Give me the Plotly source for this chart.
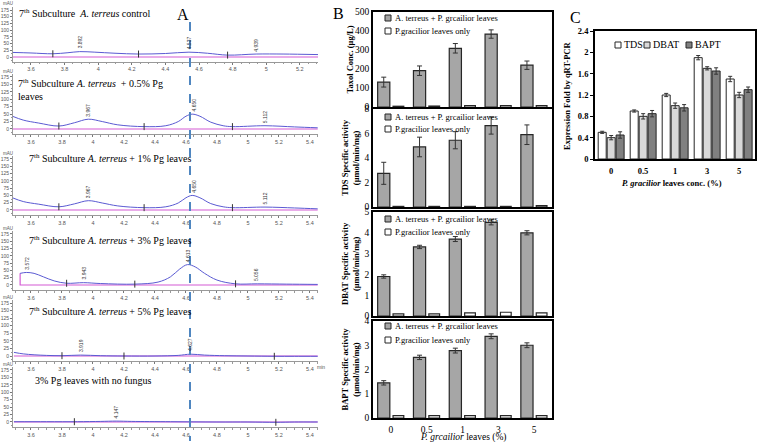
import plotly.graph_objects as go

SERIF = "Liberation Serif"
SANS = "Liberation Sans"
W, H = 758, 442


def fx(p):
    return p / W


def fy(p):
    return 1 - p / H


# ---------------- Panel A: HPLC chromatograms (retention time min, absorbance mAU)
a_titles = [
    "7<sup>th</sup> Subculture  <i>A. terreus</i> control",
    "7<sup>th</sup> Subculture <i>A. terreus</i>  + 0.5% Pg<br>leaves",
    "7<sup>th</sup> Subculture <i>A. terreus</i> + 1% Pg leaves",
    "7<sup>th</sup> Subculture <i>A. terreus</i> + 3% Pg leaves",
    "7<sup>th</sup> Subculture <i>A. terreus</i> + 5% Pg leaves",
    "3% Pg leaves with no fungus",
]

a1_time = [3.49, 3.60, 3.73, 3.82, 3.89, 3.98, 4.10, 4.24, 4.40, 4.54, 4.65, 4.77, 4.94, 5.10, 5.31]
a1_mau = [17, 15, 12, 16, 20, 18, 14, 11, 13, 18, 14, 7, 11, 11, 9]
a1_peaks = [3.892, 4.537, 4.939]
a1_peak_mau = [20, 18, 11]
a1_marks = [3.73, 4.24, 4.77]
a1_mark_mau = [12, 11, 7]

a2_time = [3.48, 3.55, 3.65, 3.78, 3.88, 3.97, 4.06, 4.16, 4.33, 4.47, 4.55, 4.60, 4.64, 4.69, 4.76, 4.84, 4.90, 5.11, 5.30, 5.45]
a2_mau = [43, 30, 20, 10, 21, 33, 25, 14, 8, 11, 25, 43, 50, 43, 23, 11, 8, 11, 7, 4]
a2_peaks = [3.967, 4.650, 5.112]
a2_peak_mau = [33, 50, 11]
a2_marks = [3.78, 4.33, 4.90]
a2_mark_mau = [10, 8, 8]

a3_time = [3.48, 3.55, 3.65, 3.78, 3.88, 3.97, 4.06, 4.16, 4.33, 4.47, 4.55, 4.60, 4.64, 4.69, 4.76, 4.84, 4.90, 5.11, 5.30, 5.45]
a3_mau = [42, 29, 20, 11, 21, 32, 24, 14, 8, 11, 24, 42, 50, 42, 22, 11, 8, 10, 7, 4]
a3_peaks = [3.967, 4.650, 5.112]
a3_peak_mau = [32, 50, 10]
a3_marks = [3.78, 4.33, 4.90]
a3_mark_mau = [11, 8, 8]

a4_time = [3.53, 3.57, 3.62, 3.68, 3.75, 3.83, 3.94, 4.05, 4.27, 4.42, 4.50, 4.56, 4.61, 4.66, 4.72, 4.80, 4.92, 5.06, 5.25, 5.45]
a4_mau = [40, 43, 40, 28, 14, 6, 8, 5, 3, 10, 28, 55, 70, 62, 40, 17, 4, 4, 3, 2]
a4_peaks = [3.572, 3.943, 4.613, 5.056]
a4_peak_mau = [43, 8, 70, 4]
a4_marks = [3.83, 4.27, 4.92]
a4_mark_mau = [6, 3, 4]

a5_time = [3.49, 3.55, 3.62, 3.70, 3.80, 3.92, 4.05, 4.20, 4.40, 4.55, 4.63, 4.72, 4.85, 5.00, 5.17, 5.30, 5.45]
a5_mau = [12, 7, 4, 2, 1, 3, 1, 0, 0, 2, 6, 3, 1, 0, -1, -1, -1]
a5_peaks = [3.919, 4.627]
a5_peak_mau = [3, 6]
a5_marks = [3.80, 4.20, 5.17]
a5_mark_mau = [1, 0, -1]

a6_time = [3.49, 3.70, 3.90, 4.05, 4.15, 4.25, 4.50, 4.80, 5.00, 5.18, 5.30, 5.45]
a6_mau = [1, 1, 1, 2, 3, 2, 1, 0, 0, -1, 0, 0]
a6_peaks = [4.147]
a6_peak_mau = [3]
a6_marks = [3.88, 5.18]
a6_mark_mau = [1, -1]

# ---------------- Panel B: taxol and enzyme activities
conc = ["0", "0.5", "1", "3", "5"]
taxol_mix = [131, 191, 309, 384, 220]
taxol_mix_err = [26, 25, 25, 22, 22]
taxol_leaf = [4, 5, 8, 8, 8]
tds_mix = [2.75, 4.9, 5.45, 6.65, 5.9]
tds_mix_err = [0.9, 0.8, 0.7, 0.7, 0.8]
tds_leaf = [0.05, 0.05, 0.05, 0.05, 0.12]
dbat_mix = [1.9, 3.32, 3.7, 4.5, 4.0]
dbat_mix_err = [0.08, 0.08, 0.12, 0.12, 0.1]
dbat_leaf = [0.1, 0.1, 0.15, 0.18, 0.15]
bapt_mix = [1.45, 2.5, 2.78, 3.37, 3.0]
bapt_mix_err = [0.09, 0.09, 0.1, 0.1, 0.1]
bapt_leaf = [0.1, 0.1, 0.1, 0.1, 0.1]

# ---------------- Panel C: qRT-PCR expression fold
tds_fold = [0.5, 0.9, 1.2, 1.9, 1.5]
tds_fold_err = [0.02, 0.02, 0.03, 0.04, 0.05]
dbat_fold = [0.4, 0.8, 1.0, 1.7, 1.2]
dbat_fold_err = [0.04, 0.05, 0.05, 0.03, 0.05]
bapt_fold = [0.45, 0.85, 0.96, 1.65, 1.3]
bapt_fold_err = [0.06, 0.06, 0.06, 0.06, 0.05]

BLUE = "#5a5ad2"
MAGENTA = "#d35ad3"
GRAY_BAR = "#a6a6a6"
EDGE = "#262626"

fig = go.Figure()
lay = {}
ann = []
shp = []


def note(x, y, text, size, family=SERIF, xanchor="center", angle=0, color="black", align="center"):
    ann.append(dict(x=fx(x), y=fy(y), xref="paper", yref="paper", text=text, showarrow=False,
                    xanchor=xanchor, yanchor="middle", textangle=angle, align=align,
                    font=dict(family=family, size=size, color=color)))


# ---- panel A layout (pixel positions of the 175 and 0 mAU ticks)
a_p175 = [10, 77, 159, 234, 303, 370]
a_p0 = [57, 129, 210, 285, 356, 422]
a_xr = [[3.493, 5.308]] + [[3.484, 5.452]] * 5
a_title_pos = [(17, 13), (16, 90), (27, 158), (27, 240), (27, 311), (33, 380)]
Y_LO, Y_HI = -18, 185

strips = [
    (a1_time, a1_mau, a1_peaks, a1_peak_mau, a1_marks, a1_mark_mau),
    (a2_time, a2_mau, a2_peaks, a2_peak_mau, a2_marks, a2_mark_mau),
    (a3_time, a3_mau, a3_peaks, a3_peak_mau, a3_marks, a3_mark_mau),
    (a4_time, a4_mau, a4_peaks, a4_peak_mau, a4_marks, a4_mark_mau),
    (a5_time, a5_mau, a5_peaks, a5_peak_mau, a5_marks, a5_mark_mau),
    (a6_time, a6_mau, a6_peaks, a6_peak_mau, a6_marks, a6_mark_mau),
]
for i, (t, mau, pk, pk_mau, mk, mk_mau) in enumerate(strips, start=1):
    sfx = "" if i == 1 else str(i)
    xs, ys = "x" + sfx, "y" + sfx
    if i == 4:
        bx, by = [t[0], t[0], t[-1]], [mau[0], 0, 0]
    else:
        bx, by = [t[0], t[-1]], [0, 0]
    fig.add_trace(go.Scatter(x=bx, y=by, mode="lines", line=dict(color=MAGENTA, width=1.2),
                             xaxis=xs, yaxis=ys, hoverinfo="skip"))
    fig.add_trace(go.Scatter(x=t, y=mau, mode="lines", line=dict(color=BLUE, width=1, shape="spline", smoothing=1),
                             xaxis=xs, yaxis=ys))
    fig.add_trace(go.Scatter(x=mk, y=mk_mau, mode="markers", xaxis=xs, yaxis=ys, hoverinfo="skip",
                             marker=dict(symbol="line-ns", size=5, line=dict(color="#333", width=1))))
    s = (a_p0[i - 1] - a_p175[i - 1]) / 175
    bot = a_p0[i - 1] - Y_LO * s
    top = a_p175[i - 1] - (Y_HI - 175) * s
    lay["xaxis" + sfx] = dict(domain=[fx(13), fx(318)], range=a_xr[i - 1], anchor=ys, tick0=3.6, dtick=0.2,
                              ticks="outside", ticklen=2, tickcolor="#777", showline=True, linecolor="#999",
                              linewidth=1, showgrid=False, zeroline=False, automargin=False,
                              tickfont=dict(family=SANS, size=5.5, color="#555"),
                              minor=dict(dtick=0.05, tick0=3.6, ticks="outside", ticklen=1.5, tickcolor="#999"))
    lay["yaxis" + sfx] = dict(domain=[fy(bot), fy(top)], range=[Y_LO, Y_HI], anchor=xs,
                              tickvals=[0, 25, 50, 75, 100, 125, 150, 175], ticks="outside", ticklen=2,
                              tickcolor="#777", showline=True, linecolor="#999", linewidth=1, showgrid=False,
                              zeroline=False, automargin=False, tickfont=dict(family=SANS, size=5, color="#555"),
                              minor=dict(dtick=12.5, ticks="outside", ticklen=1.5, tickcolor="#999"))
    for p, v in zip(pk, pk_mau):
        ann.append(dict(x=p, y=v + 3, xref=xs, yref=ys, text=f"{p:.3f}", textangle=-90, showarrow=False,
                        xanchor="center", yanchor="bottom", font=dict(family=SANS, size=5, color="#333")))
    note(1, a_p175[i - 1] - 6, "mAU", 4.5, family=SANS, xanchor="left", color="#555")
    tx, ty = a_title_pos[i - 1]
    note(tx, ty, a_titles[i - 1], 10, xanchor="left", align="left")

note(321, 367, "min", 5, family=SANS, color="#555")
note(183, 15, "A", 16)
shp.append(dict(type="line", xref="paper", yref="paper", x0=fx(190), x1=fx(190), y0=fy(22), y1=fy(441),
                line=dict(color="#4f86c0", width=2, dash="dash")))

# ---- panel B
b_panels = [
    (taxol_mix, taxol_mix_err, taxol_leaf, 500, 100, 107, 12, "<b>Taxol Conc. (μg/L)</b>", (18, 31)),
    (tds_mix, tds_mix_err, tds_leaf, 8, 2, 207, 109, "<b>TDS Specific activity<br>(μmol/min/mg)</b>", (117, 129)),
    (dbat_mix, dbat_mix_err, dbat_leaf, 5, 1, 316, 212, "<b>DBAT Specific activity<br>(μmol/min/mg)</b>", (219, 232)),
    (bapt_mix, bapt_mix_err, bapt_leaf, 4, 1, 418, 321, "<b>BAPT Specific activity<br>(μmol/min/mg)</b>", (326, 340)),
]
for k, (mix, err, leaf, ymax, dt, pb, pt, ytitle, legy) in enumerate(b_panels):
    n = 7 + k
    xs, ys = f"x{n}", f"y{n}"
    fig.add_trace(go.Bar(x=conc, y=mix, width=0.34, offset=-0.37, xaxis=xs, yaxis=ys,
                         marker=dict(color=GRAY_BAR, line=dict(color=EDGE, width=1.2)),
                         error_y=dict(type="data", array=err, color="#333", thickness=1, width=2.5)))
    fig.add_trace(go.Bar(x=conc, y=leaf, width=0.3, offset=0.06, xaxis=xs, yaxis=ys,
                         marker=dict(color="white", line=dict(color=EDGE, width=1.2))))
    lay[f"xaxis{n}"] = dict(domain=[fx(373), fx(552)], anchor=ys, type="category", range=[-0.5, 4.5],
                            showline=True, mirror=True, linecolor="black", linewidth=1.5, ticks="outside",
                            ticklen=2, tickcolor="rgba(0,0,0,0)",
                            showticklabels=(k == 3), showgrid=False, automargin=False,
                            tickfont=dict(family=SERIF, size=9.5, color="black"))
    lay[f"yaxis{n}"] = dict(domain=[fy(pb), fy(pt)], anchor=xs, range=[0, ymax], dtick=dt, showline=True,
                            mirror=True, linecolor="black", linewidth=1.5, ticks="", showgrid=False,
                            zeroline=False, automargin=False, tickfont=dict(family=SERIF, size=9.5, color="black"))
    note(350, (pb + pt) / 2, ytitle, 8.5, angle=-90)
    for row, (lab, col) in enumerate([("A. terreus + P. grcailior leaves", GRAY_BAR),
                                      ("P.gracilior leaves only", "white")]):
        yy = legy[row]
        shp.append(dict(type="rect", xref="paper", yref="paper", x0=fx(385), x1=fx(391), y0=fy(yy + 3),
                        y1=fy(yy - 3), fillcolor=col, line=dict(color=EDGE, width=1)))
        note(393, yy, lab, 8.5, xanchor="left")

note(463, 437, "<i>P. grcailior</i> leaves (%)", 9.5)
note(338, 13, "B", 16)

# ---- panel C
c_series = [
    ("TDS", tds_fold, tds_fold_err, "white", -0.40),
    ("DBAT", dbat_fold, dbat_fold_err, "#d9d9d9", -0.12),
    ("BAPT", bapt_fold, bapt_fold_err, "#808080", 0.16),
]
for name, vals, err, col, off in c_series:
    fig.add_trace(go.Bar(x=conc, y=vals, name=name, width=0.25, offset=off, xaxis="x11", yaxis="y11",
                         marker=dict(color=col, line=dict(color=EDGE, width=1)),
                         error_y=dict(type="data", array=err, color="#333", thickness=1, width=2)))
lay["xaxis11"] = dict(domain=[fx(595), fx(755)], anchor="y11", type="category", range=[-0.5, 4.5],
                      showline=True, mirror=True, linecolor="black", linewidth=1.8, ticks="outside", ticklen=3,
                      tickcolor="rgba(0,0,0,0)", showgrid=False, automargin=False,
                      tickfont=dict(family=SERIF, size=8.5, color="black", weight="bold"))
lay["yaxis11"] = dict(domain=[fy(159), fy(31)], anchor="x11", range=[0, 2.4], dtick=0.4, showline=True,
                      mirror=True, linecolor="black", linewidth=1.8, ticks="outside", ticklen=3,
                      tickcolor="black", showgrid=False, zeroline=False, automargin=False,
                      tickfont=dict(family=SERIF, size=8.5, color="black", weight="bold"))
for (name, _, _, col, _), (sx, tx) in zip(c_series, [(615, 622), (644, 651), (686, 693)]):
    shp.append(dict(type="rect", xref="paper", yref="paper", x0=fx(sx), x1=fx(sx + 6), y0=fy(48), y1=fy(42),
                    fillcolor=col, line=dict(color=EDGE, width=1)))
    note(tx, 45, name, 10, xanchor="left")
note(567, 96, "<b>Expression Fold by qRT-PCR</b>", 8.5, angle=-90)
note(672, 183, "<b><i>P. gracilior</i> leaves conc. (%)</b>", 8.5)
note(575, 18, "C", 16)

fig.update_layout(width=W, height=H, margin=dict(l=0, r=0, t=0, b=0), autosize=False, showlegend=False,
                  paper_bgcolor="white", plot_bgcolor="white", annotations=ann, shapes=shp, **lay)
# the page body has a default 8px margin; remove it so the figure sits at the window origin
fig.write_html("out.html", config={"displayModeBar": False},
               post_script="document.body.style.margin='0';")
